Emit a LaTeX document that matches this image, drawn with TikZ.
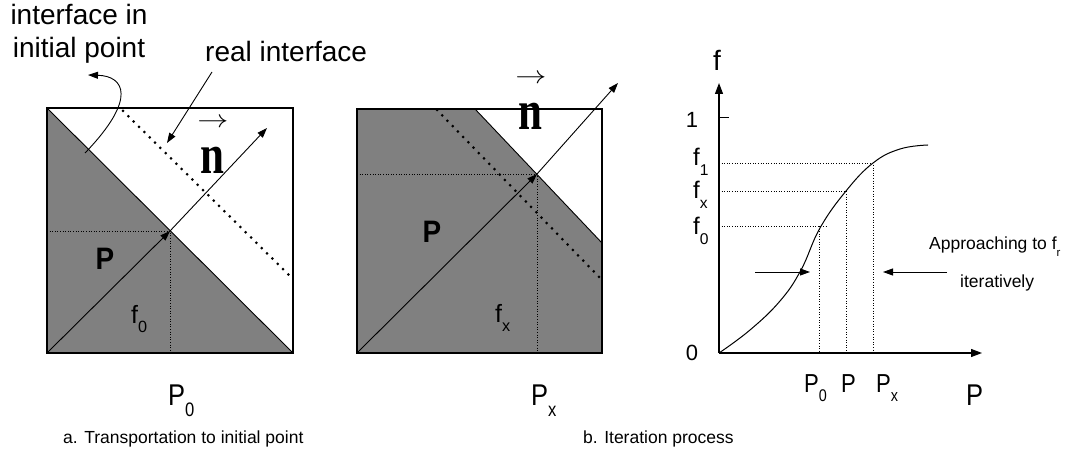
\documentclass[tikz,border=0pt]{standalone}
\usepackage{fontspec}
\setmainfont{Liberation Sans}
\newfontfamily\serifn{Liberation Serif}
\usepackage{graphicx}
\usetikzlibrary{arrows.meta}
\definecolor{boxgray}{RGB}{128,128,128}
\newcommand\lowsub[1]{\raisebox{-0.38em}{\scalebox{0.65}{#1}}}
\newcommand\nar[1]{\scalebox{0.85}[1]{#1}}
\newcommand\vecn{{\serifn\bfseries\scalebox{1}[1.3]{\fontsize{43}{43}\selectfont n}}}
\begin{document}
\begin{tikzpicture}[x=1pt,y=-1pt,
  tipline/.style={line width=0.9pt,-{Triangle[length=10pt,width=7pt]}},
  axisline/.style={line width=1.2pt,-{Triangle[length=11pt,width=8pt]}},
  edgeline/.style={line width=0.9pt},
  boxline/.style={line width=1.4pt},
  finedots/.style={dotted, line width=0.6pt},
  bigdots/.style={line width=3pt, line cap=round, dash pattern=on 0pt off 7.5pt},
  bigtxt/.style={inner sep=0pt, font=\fontsize{28}{33}\selectfont},
  labtxt/.style={inner sep=0pt, font=\fontsize{25}{28}\selectfont},
  glabtxt/.style={inner sep=0pt, font=\fontsize{26}{28}\selectfont},
  plabtxt/.style={inner sep=0pt, font=\fontsize{30}{34}\selectfont},
  smalltxt/.style={inner sep=0pt, font=\fontsize{17.5}{20}\selectfont},
  boldp/.style={inner sep=0pt, font=\fontsize{31}{32}\selectfont\bfseries},
  arrowsym/.style={inner sep=0pt, font=\fontsize{25}{25}\selectfont}]
\useasboundingbox (0,0) rectangle (1083,454);

% ---------- box 1 ----------
\coordinate (a1) at (47,108);
\coordinate (c1) at (293,353);
\coordinate (d1) at (47,353);
\coordinate (m1) at (170,231);
\coordinate (n1tip) at (267,128);
\coordinate (r1s) at (123,111);
\coordinate (r1e) at (293,279);
\fill[boxgray] (a1) -- (c1) -- (d1) -- cycle;
\draw[edgeline] (a1) -- (c1);
\draw[finedots] (d1 |- m1) -- (m1) -- (m1 |- d1);
\draw[boxline] (a1) rectangle (c1);
\draw[tipline] (d1) -- (m1);
\draw[tipline] (m1) -- (n1tip);
\draw[bigdots] (r1s) -- (r1e);

\node[arrowsym] (v1arrow) at (213,123) {\scalebox{1.25}[1]{$\rightarrow$}};
\node[inner sep=0pt] (v1n) at (212,160) {\vecn};
\node[boldp] (p1) at (105,259) {\scalebox{0.9}[1]{P}};
\node[labtxt, anchor=base west] (f0box) at (131,323) {f\lowsub{0}};
\node[plabtxt, anchor=base west] (p0lab) at (168,405) {\nar{P\lowsub{0}}};

% labels top left
\node[bigtxt, anchor=base] (int1) at (79,25) {interface in};
\node[bigtxt, anchor=base] (int2) at (79,58) {initial point};
\coordinate (ia) at (85,153);
\coordinate (ib) at (88,75);
\draw[tipline] (ia) .. controls (138,98) and (124,76) .. (ib);
\node[bigtxt, anchor=base west] (real) at (205,62) {real interface};
\coordinate (ra) at (212,72);
\coordinate (rb) at (167,143);
\draw[tipline] (ra) -- (rb);

% ---------- box 2 ----------
\coordinate (a2) at (357,109);
\coordinate (c2) at (602,353);
\coordinate (d2) at (357,353);
\coordinate (k2) at (475,109);
\coordinate (e2) at (602,243);
\coordinate (m2) at (537,174);
\coordinate (n2tip) at (618,83);
\coordinate (r2s) at (437,110);
\coordinate (r2e) at (602,280);
\fill[boxgray] (a2) -- (k2) -- (e2) -- (c2) -- (d2) -- cycle;
\draw[edgeline] (k2) -- (e2);
\draw[finedots] (d2 |- m2) -- (m2) -- (m2 |- d2);
\draw[boxline] (a2) rectangle (c2);
\draw[tipline] (d2) -- (m2);
\draw[tipline] (m2) -- (n2tip);
\draw[bigdots] (r2s) -- (r2e);

\node[arrowsym] (v2arrow) at (531,79) {\scalebox{1.25}[1]{$\rightarrow$}};
\node[inner sep=0pt] (v2n) at (530,116) {\vecn};
\node[boldp] (p2) at (432,232) {\scalebox{0.9}[1]{P}};
\node[labtxt, anchor=base west] (fxbox) at (495,322) {f\lowsub{x}};
\node[plabtxt, anchor=base west] (pxlab) at (531,405) {\nar{P\lowsub{x}}};

% ---------- graph ----------
\coordinate (o) at (719,353);
\coordinate (xend) at (982,353);
\coordinate (yend) at (719,83);
\coordinate (t1) at (719,118);
\coordinate (t1e) at (729,118);
\coordinate (q1) at (873,163);
\coordinate (qx) at (846,191);
\coordinate (q0) at (819,226);
\coordinate (q0e) at (828,226);

\draw[finedots] (o |- q1) -- (q1) -- (q1 |- o);
\draw[finedots] (o |- qx) -- (qx) -- (qx |- o);
\draw[finedots] (o |- q0) -- (q0e);
\draw[finedots] (q0) -- (q0 |- o);
\draw[axisline] (o) -- (xend);
\draw[axisline] (o) -- (yend);
\draw[line width=1pt] (t1) -- (t1e);
\draw[line width=1pt] plot[smooth, tension=0.7] coordinates {(719,353) (750,330) (780,301) (801,270) (820,228) (846,191) (873,163) (900,149) (928,145)};

\coordinate (la) at (755,272);
\coordinate (lb) at (810,272);
\coordinate (ra2) at (947,272);
\coordinate (rb2) at (883,272);
\draw[tipline] (la) -- (lb);
\draw[tipline] (ra2) -- (rb2);

\node[glabtxt, font=\fontsize{28}{30}\selectfont] (flab) at (717,60) {f};
\node[glabtxt, font=\fontsize{22}{24}\selectfont] (one) at (692,120) {1};
\node[glabtxt, font=\fontsize{22}{24}\selectfont] (zero) at (692,353) {0};
\node[glabtxt, anchor=base west, font=\fontsize{24}{26}\selectfont] (f1lab) at (693,166) {f\lowsub{1}};
\node[glabtxt, anchor=base west, font=\fontsize{24}{26}\selectfont] (fxlab) at (693,199) {f\lowsub{x}};
\node[glabtxt, anchor=base west, font=\fontsize{24}{26}\selectfont] (f0lab) at (693,235) {f\lowsub{0}};

\node[glabtxt, anchor=base west] (gp0) at (804,392) {\nar{P\lowsub{0}}};
\node[glabtxt, anchor=base west] (gp) at (841,392) {\nar{P}};
\node[glabtxt, anchor=base west] (gpx) at (876,392) {\nar{P\lowsub{x}}};
\node[plabtxt, anchor=base west] (bigP) at (966,405) {\nar{P}};

\node[smalltxt, anchor=base west] (appr) at (929,250) {Approaching to f\lowsub{r}};
\node[smalltxt, anchor=base west] (iter) at (960,287) {iteratively};

% captions
\node[smalltxt, anchor=base west] (capa) at (63,443) {a. Transportation to initial point};
\node[smalltxt, anchor=base west] (capb) at (583,443) {b. Iteration process};
\end{tikzpicture}
\end{document}
